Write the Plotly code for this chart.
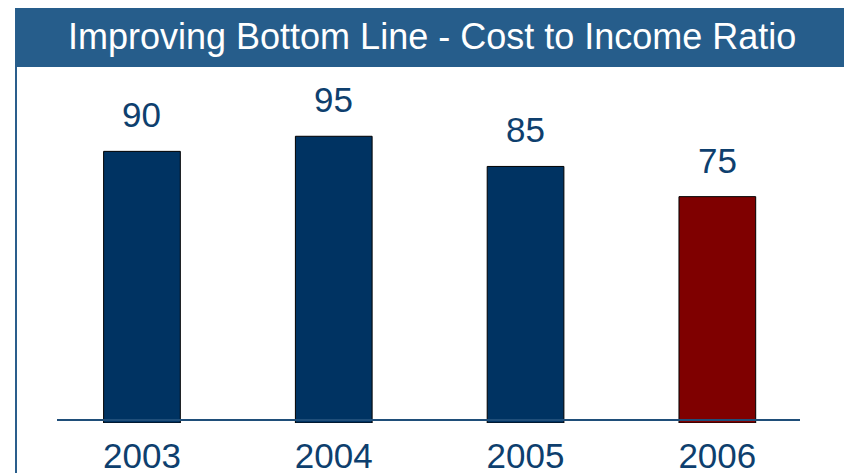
import plotly.graph_objects as go

# Data
years = ["2003", "2004", "2005", "2006"]
ratios = [90, 95, 85, 75]
bar_colors = ["#003362", "#003362", "#003362", "#7F0000"]
title_text = "Improving Bottom Line - Cost to Income Ratio"

# The page body adds an 8px offset; the figure is sized/positioned to compensate.
OFF = 8
W, H = 852 - OFF, 473 - OFF
ML, MR, MT, MB = 57 - OFF, 52, 91 - OFF, 50
PW = W - ML - MR
PH = H - MT - MB


def px(x):
    """reference page x -> paper x"""
    return (x - OFF - ML) / PW


def py(y):
    """reference page y -> paper y"""
    return (H - MB - (y - OFF)) / PH


TEXT_BLUE = "#0E3F6E"
FRAME = "#2A5E8C"
FONT = "Liberation Sans, Arial, Helvetica, sans-serif"

fig = go.Figure()
fig.add_trace(go.Bar(
    x=years, y=ratios,
    marker=dict(color=bar_colors, line=dict(color="#000000", width=1)),
    width=0.4,
    hoverinfo="skip",
))

for i, v in enumerate(ratios):
    fig.add_annotation(x=i, y=v, text=str(v), showarrow=False,
                       xref="x", yref="y",
                       yanchor="bottom", yshift=15,
                       font=dict(size=35, color=TEXT_BLUE, family=FONT))

shapes = [
    # outer frame
    dict(type="rect", xref="paper", yref="paper",
         x0=px(16), x1=px(848), y0=py(7), y1=py(490),
         line=dict(color=FRAME, width=2), fillcolor="rgba(0,0,0,0)", layer="below"),
    # title bar
    dict(type="rect", xref="paper", yref="paper",
         x0=px(16), x1=px(848), y0=py(67), y1=py(7),
         line=dict(width=0), fillcolor="#265D8B", layer="below"),
    # baseline
    dict(type="line", xref="paper", yref="y",
         x0=0, x1=1, y0=1, y1=1,
         line=dict(color="#1F4E79", width=2), layer="above"),
]

fig.add_annotation(xref="paper", yref="paper", x=px(432), y=py(37),
                   text=title_text, showarrow=False,
                   xanchor="center", yanchor="middle",
                   font=dict(size=36, color="white", family=FONT))

fig.update_layout(
    width=W, height=H,
    margin=dict(l=ML, r=MR, t=MT, b=MB, pad=0, autoexpand=False),
    paper_bgcolor="white", plot_bgcolor="white",
    showlegend=False,
    shapes=shapes,
    xaxis=dict(type="category", range=[-0.443, 3.431], showgrid=False, zeroline=False,
               showline=False, ticks="", automargin=False,
               tickfont=dict(size=35, color=TEXT_BLUE, family=FONT),
               ticklabelstandoff=9),
    yaxis=dict(range=[0, 110], visible=False, automargin=False),
)

fig.write_html("out.html")
